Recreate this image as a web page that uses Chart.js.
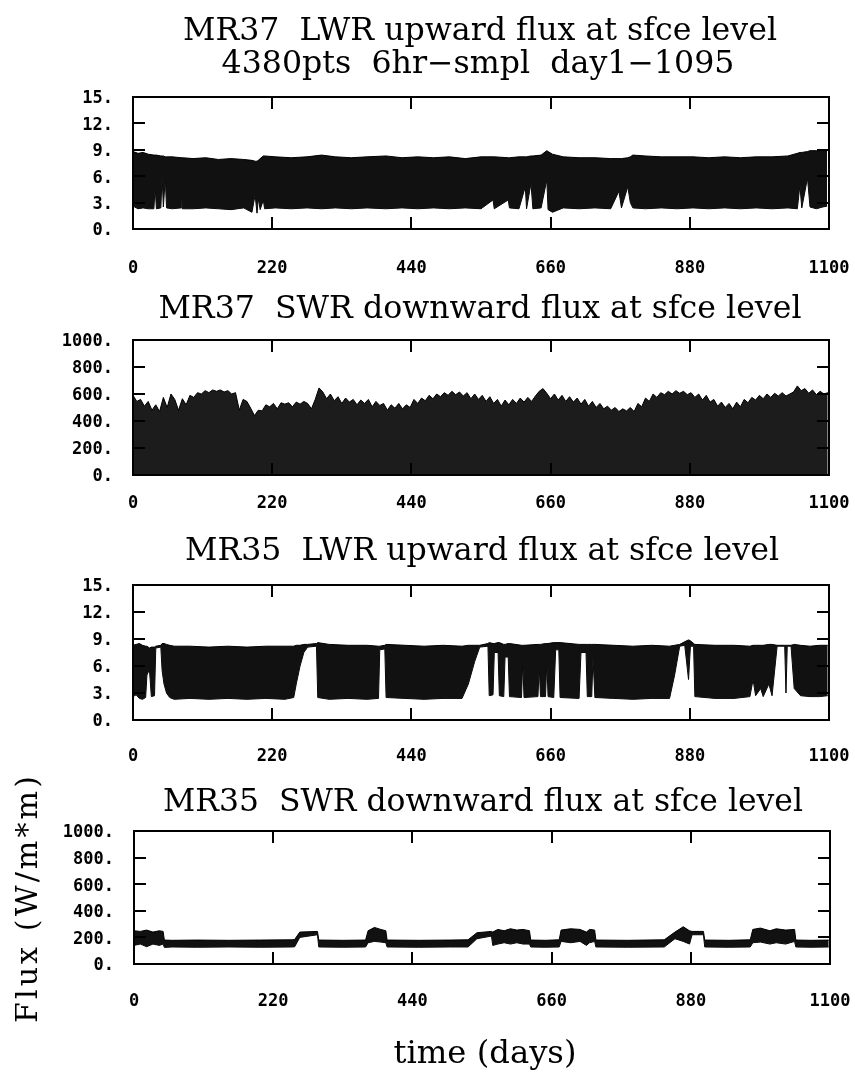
<!DOCTYPE html>
<html>
<head>
<meta charset="utf-8">
<title>MR37 / MR35 surface flux</title>
<script src="https://cdn.jsdelivr.net/npm/chart.js"></script>
<style>
  body { margin: 0; background: #fff; }
  #page { position: relative; width: 855px; height: 1075px; background: #fff; }
  canvas { position: absolute; left: 0; }
</style>
</head>
<body>
<div id="page">
  <canvas id="c1" width="855" height="280" style="top:0px"></canvas>
  <canvas id="c2" width="855" height="240" style="top:280px"></canvas>
  <canvas id="c3" width="855" height="245" style="top:520px"></canvas>
  <canvas id="c4" width="855" height="310" style="top:765px"></canvas>
</div>
<script>
// axes
const xTicks = [0, 220, 440, 660, 880, 1100]
const lwrTicks = [0, 3, 6, 9, 12, 15]
const swrTicks = [0, 200, 400, 600, 800, 1000]

// MR37 LWR : envelope of the 6-hourly samples (top / bottom of the black band)
const mr37LwrDay = [0, 8, 16, 24, 33, 35, 37, 44, 46, 48,
  51, 53, 62, 76, 77, 78, 95, 115, 135, 155,
  175, 188, 193, 196, 198, 201, 206, 208, 225, 250,
  275, 298, 320, 345, 370, 400, 425, 450, 475, 500,
  525, 550, 569, 571, 593, 595, 610, 620, 622, 629,
  632, 645, 654, 656, 663, 680, 705, 730, 755, 768,
  772, 782, 786, 790, 810, 835, 860, 885, 910, 935,
  960, 985, 1010, 1035, 1050, 1054, 1057, 1066, 1070, 1080,
  1090, 1097]
const mr37LwrHi = [8.8, 8.6, 8.7, 8.5, 8.4, 8.4, 8.4, 8.3, 8.3, 8.3,
  8.2, 8.2, 8.2, 8.1, 8.1, 8.1, 8.0, 8.1, 7.9, 8.0,
  7.9, 7.8, 7.7, 7.7, 7.8, 8.0, 8.3, 8.3, 8.2, 8.1,
  8.2, 8.4, 8.2, 8.1, 8.2, 8.3, 8.1, 8.2, 8.1, 8.2,
  8.0, 8.2, 8.2, 8.2, 8.1, 8.1, 8.2, 8.2, 8.2, 8.3,
  8.3, 8.4, 8.9, 8.8, 8.5, 8.2, 8.1, 8.1, 8.0, 8.0,
  8.0, 8.1, 8.2, 8.4, 8.3, 8.2, 8.2, 8.2, 8.1, 8.2,
  8.1, 8.2, 8.2, 8.3, 8.6, 8.7, 8.7, 8.8, 8.9, 8.9,
  8.8, 8.9]
const mr37LwrLo = [2.6, 2.3, 2.4, 2.3, 2.3, 4.8, 2.3, 2.4, 6.1, 2.5,
  5.8, 2.4, 2.3, 2.4, 4.2, 2.3, 2.3, 2.4, 2.3, 2.2,
  2.4, 1.9, 3.9, 1.8, 3.5, 2.2, 3.3, 2.3, 2.4, 2.3,
  2.4, 2.3, 2.4, 2.3, 2.4, 2.3, 2.4, 2.3, 2.4, 2.3,
  2.4, 2.3, 3.3, 2.3, 3.3, 2.4, 2.3, 4.8, 2.3, 5.2,
  2.3, 2.4, 5.6, 2.2, 1.9, 2.4, 2.3, 2.4, 2.3, 4.3,
  2.4, 4.8, 3.0, 2.4, 2.3, 2.4, 2.3, 2.4, 2.3, 2.4,
  2.3, 2.4, 2.3, 2.4, 2.3, 5.0, 2.4, 5.8, 2.5, 2.3,
  2.5, 2.6]

// MR37 SWR : daily peaks, nights go down to 0
const mr37SwrDay = [0, 6, 12, 18, 24, 30, 36, 42, 48, 54,
  60, 66, 72, 78, 84, 90, 96, 102, 108, 114,
  120, 126, 132, 138, 144, 150, 156, 162, 168, 174,
  180, 186, 192, 198, 204, 210, 216, 222, 228, 234,
  240, 246, 252, 258, 264, 270, 276, 282, 288, 294,
  300, 306, 312, 318, 324, 330, 336, 342, 348, 354,
  360, 366, 372, 378, 384, 390, 396, 402, 408, 414,
  420, 426, 432, 438, 444, 450, 456, 462, 468, 474,
  480, 486, 492, 498, 504, 510, 516, 522, 528, 534,
  540, 546, 552, 558, 564, 570, 576, 582, 588, 594,
  600, 606, 612, 618, 624, 630, 636, 642, 648, 654,
  660, 666, 672, 678, 684, 690, 696, 702, 708, 714,
  720, 726, 732, 738, 744, 750, 756, 762, 768, 774,
  780, 786, 792, 798, 804, 810, 816, 822, 828, 834,
  840, 846, 852, 858, 864, 870, 876, 882, 888, 894,
  900, 906, 912, 918, 924, 930, 936, 942, 948, 954,
  960, 966, 972, 978, 984, 990, 996, 1002, 1008, 1014,
  1020, 1026, 1032, 1038, 1044, 1050, 1056, 1062, 1068, 1074,
  1080, 1086, 1092, 1098]
const mr37SwrHi = [590, 545, 560, 510, 545, 480, 520, 470, 575, 500,
  600, 560, 480, 565, 520, 590, 575, 610, 600, 625,
  610, 630, 620, 630, 615, 625, 600, 610, 480, 560,
  545, 495, 440, 480, 475, 520, 505, 530, 490, 535,
  525, 535, 505, 540, 525, 545, 530, 490, 560, 645,
  615, 565, 600, 550, 580, 530, 570, 540, 560, 520,
  555, 530, 560, 505, 545, 515, 530, 480, 520, 495,
  530, 490, 520, 500, 560, 530, 570, 550, 590, 565,
  600, 580, 610, 590, 620, 595, 615, 585, 610, 565,
  600, 560, 590, 545, 580, 530, 560, 510, 555, 520,
  560, 530, 570, 540, 575, 545, 585, 620, 640, 605,
  565, 600, 555, 590, 545, 580, 540, 570, 525, 560,
  510, 545, 500, 530, 490, 510, 480, 500, 470, 490,
  475, 500, 470, 530, 505, 570, 545, 600, 575, 610,
  595, 620, 600, 625, 605, 620, 595, 610, 575, 600,
  555, 590, 540, 560, 510, 540, 500, 530, 490, 540,
  505, 560, 535, 575, 555, 590, 565, 600, 575, 605,
  585, 610, 585, 600, 615, 660, 625, 640, 605, 630,
  595, 620, 600, 610]

// MR35 LWR
const mr35LwrDay = [0, 5, 10, 15, 20, 22, 26, 29, 34, 36,
  44, 46, 49, 53, 58, 65, 90, 120, 150, 180,
  210, 240, 254, 258, 264, 270, 276, 290, 292, 310,
  340, 370, 388, 390, 398, 400, 430, 460, 490, 520,
  530, 540, 548, 561, 563, 569, 571, 577, 579, 586,
  588, 593, 595, 614, 616, 618, 640, 642, 644, 652,
  654, 656, 665, 668, 673, 675, 705, 708, 716, 718,
  725, 727, 730, 760, 790, 820, 848, 856, 864, 872,
  878, 881, 886, 888, 920, 950, 975, 980, 984, 992,
  996, 1005, 1010, 1018, 1030, 1032, 1034, 1040, 1045, 1055,
  1070, 1085, 1098]
const mr35LwrHi = [8.3, 8.4, 8.5, 8.3, 8.2, 8.2, 8.0, 8.1, 8.1, 8.2,
  8.3, 8.5, 8.5, 8.4, 8.3, 8.2, 8.2, 8.1, 8.2, 8.1,
  8.2, 8.2, 8.2, 8.3, 8.3, 8.4, 8.4, 8.5, 8.6, 8.4,
  8.3, 8.3, 8.2, 8.2, 8.3, 8.4, 8.3, 8.2, 8.3, 8.2,
  8.3, 8.3, 8.3, 8.5, 8.6, 8.5, 8.5, 8.6, 8.6, 8.4,
  8.4, 8.5, 8.5, 8.3, 8.3, 8.3, 8.4, 8.4, 8.4, 8.5,
  8.5, 8.5, 8.6, 8.6, 8.6, 8.6, 8.4, 8.4, 8.4, 8.4,
  8.4, 8.4, 8.4, 8.3, 8.2, 8.3, 8.2, 8.3, 8.4, 8.7,
  8.9, 8.8, 8.5, 8.4, 8.3, 8.3, 8.2, 8.3, 8.3, 8.3,
  8.3, 8.4, 8.4, 8.3, 8.3, 8.3, 8.3, 8.3, 8.4, 8.3,
  8.2, 8.3, 8.3]
const mr35LwrLo = [2.6, 2.8, 2.4, 2.3, 2.5, 5.0, 5.6, 2.6, 2.7, 8.0,
  8.1, 5.5, 4.0, 3.0, 2.5, 2.3, 2.4, 2.3, 2.4, 2.3,
  2.4, 2.3, 2.5, 4.0, 6.0, 7.5, 8.1, 8.2, 2.5, 2.3,
  2.4, 2.3, 2.4, 7.8, 7.9, 2.5, 2.4, 2.3, 2.4, 2.4,
  4.0, 6.5, 8.1, 8.2, 2.7, 2.8, 7.5, 7.5, 2.7, 2.6,
  7.0, 7.0, 2.6, 2.5, 6.5, 2.5, 2.6, 6.0, 2.6, 2.6,
  6.5, 2.6, 2.5, 7.8, 7.8, 2.5, 2.4, 7.5, 7.5, 2.6,
  2.6, 7.0, 2.5, 2.4, 2.3, 2.4, 2.4, 5.0, 8.2, 8.3,
  4.5, 8.2, 8.2, 2.6, 2.4, 2.4, 2.6, 4.5, 2.7, 3.5,
  2.6, 4.0, 2.7, 8.2, 8.2, 3.0, 8.2, 8.2, 3.5, 2.7,
  2.6, 2.6, 2.7]

// MR35 SWR
const mr35SwrDay = [0, 10, 20, 30, 40, 46, 48, 60, 100, 150,
  200, 250, 254, 262, 290, 292, 330, 366, 370, 380,
  390, 398, 400, 450, 500, 528, 542, 565, 567, 575,
  585, 595, 605, 615, 625, 627, 650, 672, 675, 690,
  705, 715, 720, 728, 730, 780, 838, 855, 868, 878,
  882, 900, 902, 940, 974, 978, 990, 1005, 1015, 1030,
  1044, 1046, 1070, 1098]
const mr35SwrHi = [250, 245, 255, 240, 250, 245, 180, 178, 180, 178,
  180, 182, 185, 240, 245, 180, 178, 180, 250, 275,
  260, 250, 180, 178, 180, 182, 235, 245, 240, 260,
  250, 265, 255, 260, 250, 180, 178, 182, 255, 265,
  260, 240, 260, 255, 180, 178, 182, 240, 280, 250,
  245, 245, 180, 178, 182, 260, 270, 250, 265, 255,
  260, 180, 178, 180]
const mr35SwrLo = [140, 150, 130, 150, 140, 150, 125, 128, 126, 128,
  126, 128, 130, 200, 220, 128, 126, 128, 160, 170,
  165, 160, 128, 126, 128, 128, 190, 210, 140, 150,
  160, 150, 160, 150, 150, 128, 126, 128, 170, 160,
  170, 140, 160, 170, 128, 126, 128, 190, 170, 150,
  220, 220, 128, 126, 128, 160, 165, 150, 160, 150,
  170, 128, 126, 128]

function pts(days, vals) {
  return days.map((d, i) => ({ x: d, y: vals[i] }))
}

// frame with inward ticks on all four sides
const frameTicks = {
  id: 'frameTicks',
  afterDatasetsDraw(chart) {
    const { ctx, chartArea: a, scales } = chart
    const x = scales.x, y = scales.y
    const len = 12
    ctx.save()
    ctx.strokeStyle = '#000'
    ctx.lineWidth = 2
    ctx.strokeRect(a.left, a.top, a.right - a.left, a.bottom - a.top)
    ctx.beginPath()
    x.ticks.forEach(t => {
      if (t.value <= x.min || t.value >= x.max) return
      const px = Math.round(x.getPixelForValue(t.value))
      ctx.moveTo(px, a.top); ctx.lineTo(px, a.top + len)
      ctx.moveTo(px, a.bottom); ctx.lineTo(px, a.bottom - len)
    })
    y.ticks.forEach(t => {
      if (t.value <= y.min || t.value >= y.max) return
      const py = Math.round(y.getPixelForValue(t.value))
      ctx.moveTo(a.left, py); ctx.lineTo(a.left + len, py)
      ctx.moveTo(a.right, py); ctx.lineTo(a.right - len, py)
    })
    ctx.stroke()
    ctx.restore()
  }
}

// titles and axis names, fitted to the width they have in the original
const panelText = {
  id: 'panelText',
  afterDraw(chart, args, opts) {
    const ctx = chart.ctx
    ;(opts.items || []).forEach(t => {
      ctx.save()
      ctx.font = t.font
      ctx.fillStyle = '#000'
      ctx.textAlign = 'center'
      ctx.textBaseline = 'alphabetic'
      ctx.translate(t.x, t.y)
      if (t.rotate) ctx.rotate(t.rotate)
      let w = ctx.measureText(t.text).width
      if (t.spread) {
        // typewriter look: open up the letters first
        ctx.letterSpacing = ((t.width - w) / t.text.length).toFixed(1) + 'px'
        w = ctx.measureText(t.text).width
      }
      ctx.scale(t.width / w, 1)
      ctx.fillText(t.text, 0, 0)
      ctx.restore()
    })
  }
}

const tickFont = { family: 'DejaVu Sans Mono', size: 17, weight: 'bold' }
const titleFont = '31px "DejaVu Serif"'

function makeChart(id, cfg) {
  const canvas = document.getElementById(id)
  const H = canvas.height
  const datasets = [{
    data: pts(cfg.days, cfg.hi),
    borderColor: '#000',
    borderWidth: 1,
    backgroundColor: cfg.fillColor,
    pointRadius: 0,
    tension: 0,
    fill: cfg.lo ? '+1' : 'origin'
  }]
  if (cfg.lo) {
    datasets.push({
      data: pts(cfg.days, cfg.lo),
      borderColor: '#000',
      borderWidth: 1,
      pointRadius: 0,
      tension: 0,
      fill: false
    })
  }
  return new Chart(canvas, {
    type: 'line',
    data: { datasets: datasets },
    options: {
      responsive: false,
      animation: false,
      devicePixelRatio: 1,
      layout: { padding: { left: 0, right: 855 - cfg.right, top: cfg.top, bottom: 0 } },
      plugins: {
        legend: { display: false },
        title: { display: false },
        tooltip: { enabled: false },
        panelText: { items: cfg.text }
      },
      scales: {
        x: {
          type: 'linear',
          min: 0,
          max: 1100,
          afterBuildTicks: s => { s.ticks = xTicks.map(v => ({ value: v })) },
          afterFit: s => {
            s.height = H - cfg.bottom
            s.paddingLeft = 0
            s.paddingRight = 0
          },
          grid: { display: false, drawTicks: false },
          border: { display: false },
          ticks: { color: '#000', font: tickFont, padding: cfg.xPad, maxRotation: 0, callback: v => String(v) }
        },
        y: {
          min: 0,
          max: cfg.yTicks[cfg.yTicks.length - 1],
          afterBuildTicks: s => { s.ticks = cfg.yTicks.map(v => ({ value: v })) },
          afterFit: s => {
            s.width = cfg.left
            s.paddingTop = 0
            s.paddingBottom = 0
          },
          grid: { display: false, drawTicks: false },
          border: { display: false },
          ticks: { color: '#000', font: tickFont, padding: 20, labelOffset: 2, callback: v => v + '.' }
        }
      }
    },
    plugins: [frameTicks, panelText]
  })
}

makeChart('c1', {
  days: mr37LwrDay, hi: mr37LwrHi, lo: mr37LwrLo, yTicks: lwrTicks, fillColor: '#111',
  left: 133, right: 829, top: 97, bottom: 229, xPad: 29,
  text: [
    { text: 'MR37  LWR upward flux at sfce level', font: titleFont, x: 480, y: 40, width: 594 },
    { text: '4380pts  6hr\u2212smpl  day1\u22121095', font: titleFont, x: 478, y: 73, width: 513 }
  ]
})

makeChart('c2', {
  days: mr37SwrDay, hi: mr37SwrHi, lo: null, yTicks: swrTicks, fillColor: '#1c1c1c',
  left: 133, right: 829, top: 60, bottom: 195, xPad: 18,
  text: [
    { text: 'MR37  SWR downward flux at sfce level', font: titleFont, x: 480, y: 38, width: 643 }
  ]
})

makeChart('c3', {
  days: mr35LwrDay, hi: mr35LwrHi, lo: mr35LwrLo, yTicks: lwrTicks, fillColor: '#111',
  left: 133, right: 829, top: 65, bottom: 200, xPad: 26,
  text: [
    { text: 'MR35  LWR upward flux at sfce level', font: titleFont, x: 482, y: 40, width: 594 }
  ]
})

makeChart('c4', {
  days: mr35SwrDay, hi: mr35SwrHi, lo: mr35SwrLo, yTicks: swrTicks, fillColor: '#111',
  left: 134, right: 830, top: 66, bottom: 199, xPad: 27,
  text: [
    { text: 'MR35  SWR downward flux at sfce level', font: titleFont, x: 483, y: 46, width: 640 },
    { text: 'time (days)', font: titleFont, x: 485, y: 298, width: 183 },
    { text: 'Flux (W/m*m)', font: '30px "DejaVu Serif"', x: 37, y: 133, width: 250, rotate: -Math.PI / 2, spread: true }
  ]
})
</script>
</body>
</html>
